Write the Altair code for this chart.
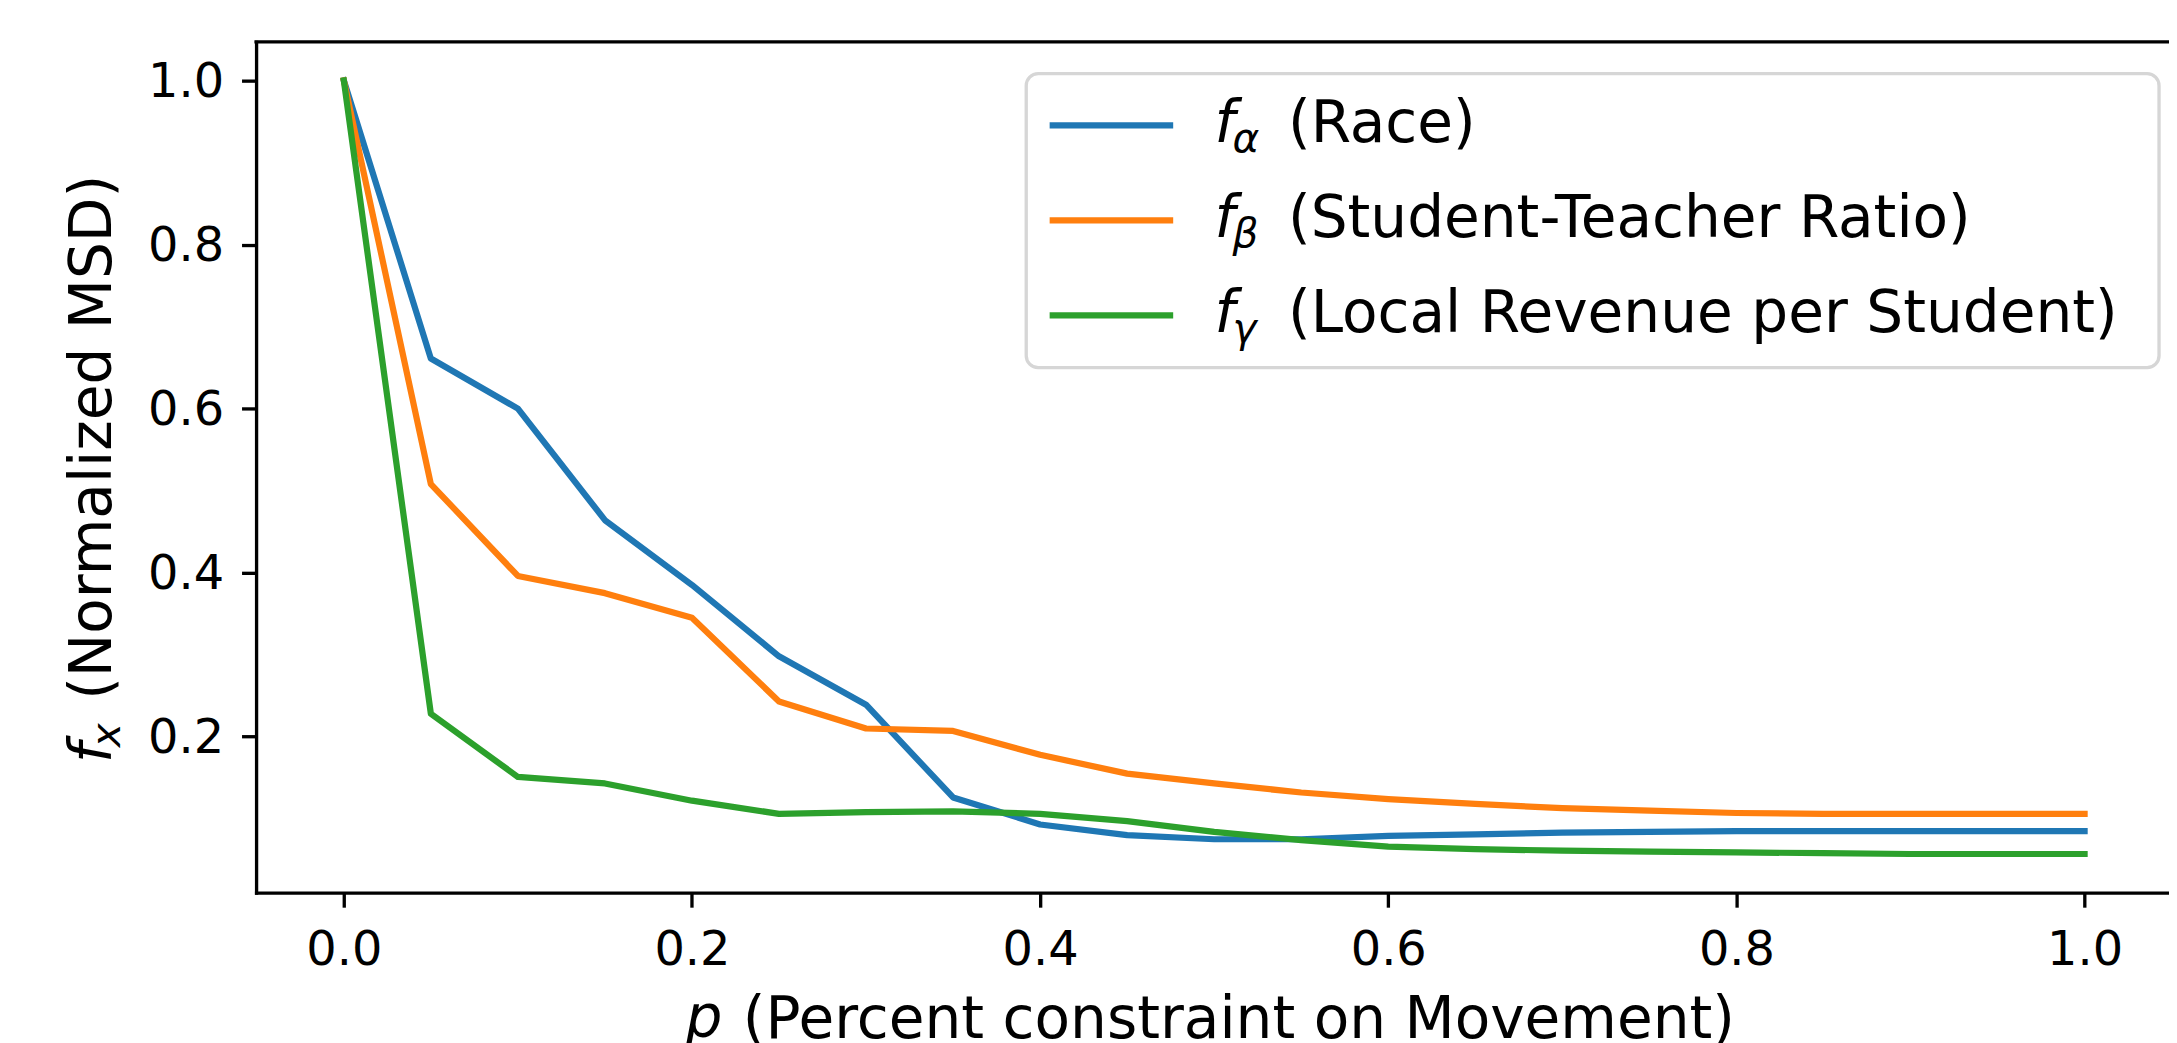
import altair as alt
import pandas as pd

# ---------------- data ----------------
p_values = [0.0, 0.05, 0.1, 0.15, 0.2, 0.25, 0.3, 0.35, 0.4, 0.45, 0.5,
            0.55, 0.6, 0.65, 0.7, 0.75, 0.8, 0.85, 0.9, 0.95, 1.0]
series_names = ["Race", "Student-Teacher Ratio", "Local Revenue per Student"]
series_greek = ["α", "β", "γ"]
series_colors = ["#1f77b4", "#ff7f0e", "#2ca02c"]
race = [1.0, 0.661, 0.600, 0.464, 0.385, 0.298, 0.239, 0.126, 0.093, 0.080, 0.075,
        0.075, 0.079, 0.081, 0.083, 0.084, 0.085, 0.085, 0.085, 0.085, 0.085]
ratio = [1.0, 0.508, 0.396, 0.375, 0.345, 0.243, 0.210, 0.207, 0.178, 0.155, 0.143,
         0.132, 0.124, 0.118, 0.113, 0.110, 0.107, 0.106, 0.106, 0.106, 0.106]
revenue = [1.0, 0.228, 0.151, 0.143, 0.122, 0.106, 0.108, 0.109, 0.106, 0.097, 0.084,
           0.074, 0.066, 0.063, 0.061, 0.060, 0.059, 0.058, 0.057, 0.057, 0.057]
x_ticks = [0.0, 0.2, 0.4, 0.6, 0.8, 1.0]
y_ticks = [0.2, 0.4, 0.6, 0.8, 1.0]
x_domain = [-0.0504, 1.0485]
y_domain = [0.0099, 1.0472]

rows = []
for name, vals in zip(series_names, [race, ratio, revenue]):
    for p, v in zip(p_values, vals):
        rows.append({"p": p, "value": v, "series": name})
df = pd.DataFrame(rows)

FONT = "DejaVu Sans"
W, H = 1920, 854
BIG = 58.33
SUB = 40.8

x_scale = alt.Scale(domain=x_domain, nice=False, zero=False)
y_scale = alt.Scale(domain=y_domain, nice=False, zero=False)

legend = alt.Legend(
    orient="none", legendX=773, legendY=32,
    title=" ", titleOrient="right", titleFontSize=1, titlePadding=21,
    symbolType="stroke", symbolSize=124 * 124, symbolStrokeWidth=6.25,
    symbolOffset=0,
    labelFont=FONT, labelFontSize=BIG, labelColor="black", labelLimit=0,
    labelOffset=111.7, labelExpr="'(' + datum.label + ')'",
    padding=20, clipHeight=64, rowPadding=31.3,
    strokeColor="#d6d6d6",
)

lines = alt.Chart(df).mark_line(
    strokeWidth=6.25, strokeJoin="round", strokeCap="square"
).encode(
    x=alt.X("p:Q", scale=x_scale,
            axis=alt.Axis(values=x_ticks, format=".1f",
                          title="(Percent constraint on Movement)",
                          titleX=488, titleY=145, titleAlign="left",
                          titleBaseline="alphabetic")),
    y=alt.Y("value:Q", scale=y_scale,
            axis=alt.Axis(values=y_ticks, format=".1f",
                          title="(Normalized MSD)",
                          titleX=-146, titleY=660, titleAlign="left",
                          titleAngle=270, titleBaseline="alphabetic",
                          labelBaseline="middle", labelOffset=2)),
    color=alt.Color("series:N", sort=series_names,
                    scale=alt.Scale(domain=series_names, range=series_colors),
                    legend=legend),
)

# top spine of the frame
top_frame = alt.Chart(pd.DataFrame({"t": [0]})).mark_rule(
    color="black", strokeWidth=3.33, strokeCap="square"
).encode(x=alt.value(0), x2=alt.value(W), y=alt.value(0))


def glyph(text, x, y, size, angle=0):
    return alt.Chart(pd.DataFrame({"t": [text]})).mark_text(
        text=text, font=FONT, fontSize=size, fontStyle="italic",
        align="left", baseline="alphabetic", angle=angle, color="black"
    ).encode(x=alt.value(x), y=alt.value(y))


overlays = []
# legend math prefixes f_alpha, f_beta, f_gamma
row_base = [101, 196.3, 291.6]
for g, yb in zip(series_greek, row_base):
    overlays.append(glyph("f", 962, yb, BIG))
    overlays.append(glyph(g, 980, yb + 10, SUB))
# y title prefix f_x
overlays.append(glyph("f", -146, 724, BIG, 270))
overlays.append(glyph("x", -137, 708, SUB, 270))
# x title prefix p
overlays.append(glyph("p", 431, 999, BIG))

chart = alt.layer(lines, top_frame, *overlays).properties(
    width=W, height=H,
    autosize=alt.AutoSizeParams(type="none"),
    padding={"left": 249, "top": 32, "right": 0, "bottom": 149},
    background="white",
).configure_view(
    stroke=None
).configure_axis(
    grid=False, domainColor="black", domainWidth=3.33, domainCap="square",
    tickColor="black", tickWidth=3.33, tickSize=14.6,
    labelFont=FONT, labelFontSize=48, labelColor="black",
    labelFlush=False, labelOverlap=False,
    titleFont=FONT, titleFontSize=BIG, titleColor="black", titleFontWeight="normal",
).configure_axisX(
    labelPadding=19.4
).configure_axisY(
    labelPadding=18
).configure_legend(
    strokeWidth=3.33, cornerRadius=12
)

chart.save("out.html", embed_options={"renderer": "svg", "actions": False})
